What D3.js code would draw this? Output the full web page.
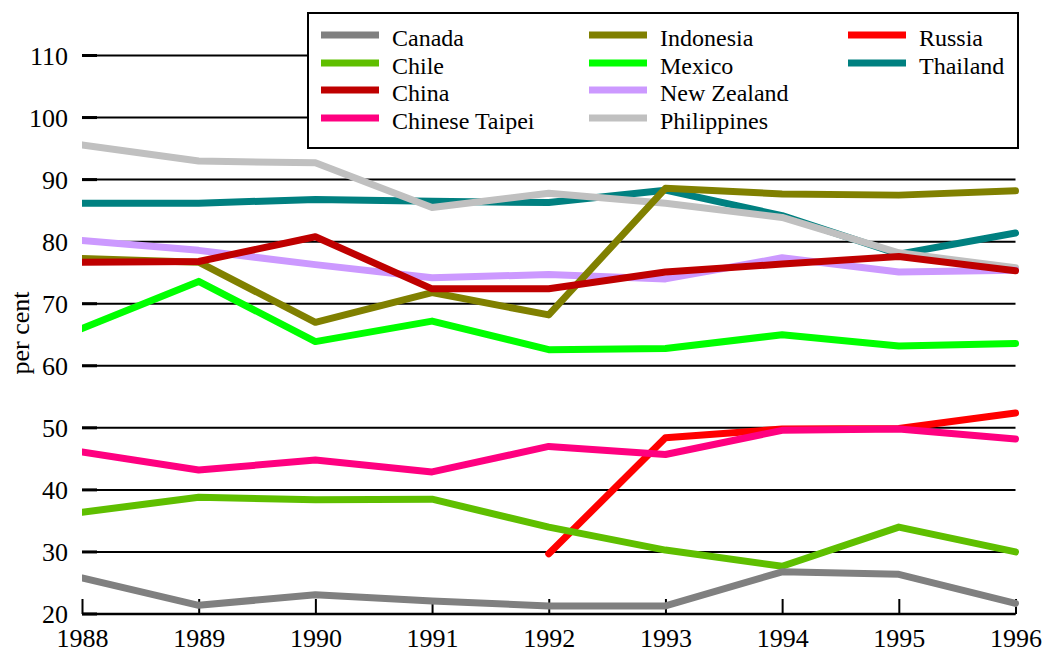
<!DOCTYPE html>
<html><head><meta charset="utf-8">
<script src="https://cdn.jsdelivr.net/npm/d3@7"></script>
<style>body{margin:0;background:#fff}svg{display:block}svg text{font-family:"Liberation Serif","Times New Roman",Tinos,Times,serif !important}</style>
</head><body><svg id="c" width="1042" height="653"></svg>
<script>
const years = [1988,1989,1990,1991,1992,1993,1994,1995,1996];
const yTicks = [20,30,40,50,60,70,80,90,100,110];
const countries = ["Canada","Chile","China","Chinese Taipei","Indonesia","Mexico","New Zealand","Philippines","Russia","Thailand"];
const colors = ["#808080","#5fbf00","#bf0000","#ff0080","#808000","#00ff00","#cc99ff","#c0c0c0","#ff0000","#008080"];
const canada = [25.8,21.4,23.1,22.1,21.3,21.3,26.8,26.4,21.7];
const chile = [36.4,38.8,38.4,38.5,34.0,30.3,27.7,34.0,30.0];
const china = [76.7,76.8,80.8,72.4,72.4,75.1,76.4,77.6,75.3];
const chineseTaipei = [46.1,43.2,44.8,42.9,47.0,45.7,49.6,49.8,48.2];
const indonesia = [77.3,76.7,67.0,71.8,68.2,88.6,87.7,87.5,88.2];
const mexico = [66.0,73.6,63.9,67.2,62.6,62.8,65.0,63.2,63.6];
const newZealand = [80.2,78.6,76.3,74.2,74.7,74.0,77.4,75.1,75.4];
const philippines = [95.6,93.0,92.7,85.5,87.8,86.2,83.9,78.2,75.8];
const russia = [null,null,null,null,29.7,48.4,49.8,49.9,52.4];
const thailand = [86.2,86.2,86.8,86.5,86.3,88.3,84.2,78.0,81.4];
const seriesValues = [canada,chile,china,chineseTaipei,indonesia,mexico,newZealand,philippines,russia,thailand];

const svg = d3.select("#c");
const x = d3.scaleLinear().domain([1988,1996]).range([82,1015.5]);
const y = d3.scaleLinear().domain([20,110]).range([614,55.5]);

svg.append("g").selectAll("line").data(yTicks).join("line")
  .attr("x1",82).attr("x2",1015.5).attr("y1",d=>y(d)).attr("y2",d=>y(d))
  .attr("stroke","#000").attr("stroke-width",2);
svg.append("g").selectAll("line").data(yTicks).join("line")
  .attr("x1",82).attr("x2",97).attr("y1",d=>y(d)).attr("y2",d=>y(d))
  .attr("stroke","#000").attr("stroke-width",3);
svg.append("g").selectAll("text").data(yTicks).join("text")
  .attr("x",68).attr("y",d=>y(d)).attr("dy","0.35em").attr("text-anchor","end")
  .attr("font-size",26).attr("fill","#000").text(d=>d);
const xAxis = d3.axisBottom(x).tickValues(years).tickFormat(d3.format("d")).tickSize(-15).tickPadding(20);
const xg = svg.append("g").attr("transform","translate(0,614)").call(xAxis);
xg.select(".domain").attr("stroke","#000").attr("stroke-width",2.5).attr("d","M82,0H1015.5");
xg.selectAll(".tick line").attr("stroke","#000").attr("stroke-width",2);
xg.selectAll(".tick text").attr("font-size",26).attr("fill","#000").attr("dy","0.5em");

svg.append("text").attr("transform","translate(29,333) rotate(-90)").attr("text-anchor","middle")
  .attr("font-size",26).attr("fill","#000").text("per cent");

svg.append("clipPath").attr("id","clip").append("rect").attr("x",82).attr("y",0).attr("width",960).attr("height",653);
const line = d3.line().defined(d=>d!=null).x((d,i)=>x(years[i])).y(d=>y(d));
const order = d3.range(countries.length).reverse();
svg.append("g").attr("clip-path","url(#clip)").selectAll("path").data(order).join("path")
  .attr("d",i=>line(seriesValues[i])).attr("fill","none").attr("stroke",i=>colors[i])
  .attr("stroke-width",7).attr("stroke-linecap","round").attr("stroke-linejoin","round");

const lg = svg.append("g");
lg.append("rect").attr("x",308).attr("y",13).attr("width",710).attr("height",135)
  .attr("fill","#fff").attr("stroke","#000").attr("stroke-width",2);
const colX = [321,589,848];
const rowY = [35,63,90,118];
countries.forEach((c,i)=>{
  const col = Math.floor(i/4), row = i%4;
  const g = lg.append("g");
  g.append("line").attr("x1",colX[col]).attr("x2",colX[col]+58).attr("y1",rowY[row]).attr("y2",rowY[row])
    .attr("stroke",colors[i]).attr("stroke-width",7);
  g.append("text").attr("x",colX[col]+71).attr("y",rowY[row]+11).attr("font-size",24).attr("fill","#000").text(c);
});
</script></body></html>
